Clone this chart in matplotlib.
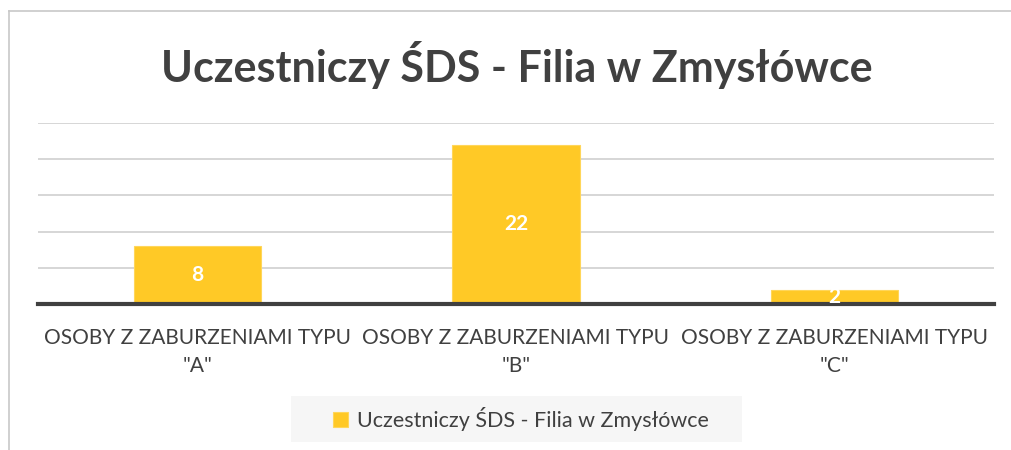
import matplotlib.pyplot as plt
from matplotlib.patches import Rectangle

# data
categories = ['OSOBY Z ZABURZENIAMI TYPU\n"A"',
              'OSOBY Z ZABURZENIAMI TYPU\n"B"',
              'OSOBY Z ZABURZENIAMI TYPU\n"C"']
values = [8, 22, 2]
series_name = 'Uczestniczy ŚDS - Filia w Zmysłówce'
title = 'Uczestniczy ŚDS - Filia w Zmysłówce'

plt.rcParams['font.family'] = ['Lato', 'DejaVu Sans']

fig = plt.figure(figsize=(10.11, 4.5), dpi=100)
W, H = 1011, 450

# outer chart frame (left and top edges visible)
fig.add_artist(plt.Line2D([9 / W, 9 / W], [0, 1 - 11 / H], color='#c8c8c8', lw=1.2))
fig.add_artist(plt.Line2D([9 / W, 1], [1 - 11 / H, 1 - 11 / H], color='#c8c8c8', lw=1.2))

ax = fig.add_axes([38 / W, 1 - 304 / H, (994 - 38) / W, (304 - 123) / H])
x = range(len(values))
bars = ax.bar(x, values, width=0.4, color='#FFC926', edgecolor='#FFD65A', lw=0.8,
              label=series_name, zorder=3)
ax.set_xlim(-0.5, 2.5)
ax.set_ylim(0, 25)
ax.set_yticks([5, 10, 15, 20, 25])
ax.yaxis.grid(True, color='#d0d0d0', lw=1.2)
ax.set_axisbelow(True)
ax.tick_params(axis='y', left=False, labelleft=False)
ax.tick_params(axis='x', length=0, pad=17, labelsize=15, labelcolor='#404040')
ax.set_xticks(list(x))
ax.set_xticklabels(categories, linespacing=1.5)
for s in ['top', 'right', 'left']:
    ax.spines[s].set_visible(False)
ax.spines['bottom'].set_color('#404040')
ax.spines['bottom'].set_linewidth(3)
ax.spines['bottom'].set_zorder(4)

ax.bar_label(bars, labels=[str(v) for v in values], label_type='center',
             color='white', fontsize=15, fontweight='bold', zorder=5)

fig.text(517 / W, 1 - 65 / H, title, ha='center', va='center',
         fontsize=31, fontweight='bold', color='#404040')

# legend box
fig.add_artist(Rectangle((291 / W, 1 - 442 / H), (742 - 291) / W, (442 - 396) / H,
                         transform=fig.transFigure, facecolor='#f6f6f6',
                         edgecolor='none', zorder=0))
fig.legend(handles=[bars], labels=[series_name], loc='center',
           bbox_to_anchor=(521 / W, 1 - 419 / H), frameon=False,
           fontsize=15.5, labelcolor='#404040', handlelength=0.7,
           handleheight=0.7, handletextpad=0.4)

fig.savefig('out.png', dpi=100)
